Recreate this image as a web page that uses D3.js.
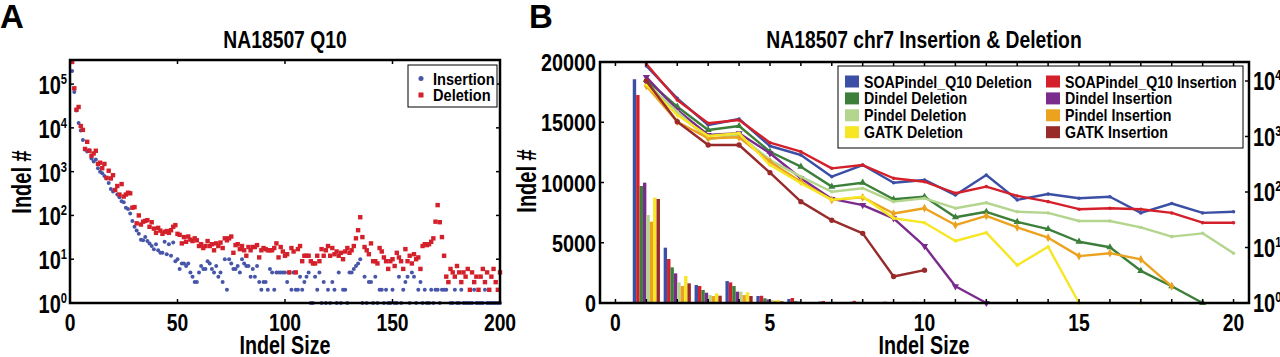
<!DOCTYPE html>
<html>
<head>
<meta charset="utf-8">
<script src="https://cdn.jsdelivr.net/npm/d3@7"></script>
<style>
  body { margin: 0; background: #fff; }
  svg text { font-family: "Liberation Sans", Arial, sans-serif; font-weight: bold; fill: #000; }
</style>
</head>
<body>
<div id="plot"></div>
<script>
// ---- panel A data : indel size 1..200 ----
let insertionA = [200000,66000,25000,13000,8700,5300,3200,2900,3100,2000,1700,1900,1200,1000,920,800,700,550,400,350,
  380,300,260,210,200,150,140,110,75,55,45,38,28,27,32,26,23,20,17,22,
  16,14,14,25,13,22,12,24,9,10,6,8,8,7,8,5,4,3,3,5,
  7,6,6,9,8,6,5,7,4,5,3,10,2,10,8,6,6,7,5,10,
  8,7,7,4,6,4,7,3,2,3,3,2,6,5,2,5,5,5,5,5,
  3,5,2,5,2,2,4,2,3,4,5,1,1,4,2,5,1,3,1,2,
  1,3,2,1,5,1,2,2,1,5,5,6,7,8,10,1,4,1,3,3,
  1,4,1,2,2,1,2,1,1,2,1,1,4,1,2,3,4,1,5,4,
  1,2,3,1,2,1,1,2,1,2,2,1,2,2,2,3,1,1,2,1,
  1,2,1,1,1,1,1,2,1,1,1,1,2,1,1,1,1,1,1,1];
let deletionA = [320000,80000,26000,30000,11000,9000,3300,4800,3000,2300,2600,3000,1500,1600,1200,1500,720,1050,700,830,
  380,470,300,520,270,300,330,320,150,155,66,100,62,72,75,78,55,70,50,40,
  52,45,38,42,44,40,46,55,60,38,36,23,32,25,33,28,26,30,27,20,
  22,18,20,26,20,22,16,23,20,24,18,30,27,30,33,14,21,22,17,20,
  16,12,19,16,19,19,21,11,16,18,17,16,16,16,18,23,11,19,15,12,
  13,5,18,15,5,17,20,9,12,12,12,9,8,8,12,9,17,12,16,20,
  12,18,13,15,12,14,10,15,18,14,16,20,30,46,91,32,19,16,13,23,
  9,9,8,18,15,11,9,6,9,10,7,14,11,9,6,17,9,12,8,13,
  10,11,6,20,22,21,22,25,30,72,172,70,32,12,4,3,6,5,4,7,
  5,3,5,4,6,2,5,3,4,2,4,6,3,5,2,4,6,3,2,5];
let legendA = ['Insertion', 'Deletion'];

// ---- panel B data : chr7, indel size 1..20 ----
let methods = ['SOAPindel_Q10 Deletion', 'SOAPindel_Q10 Insertion', 'Dindel Deletion', 'Dindel Insertion',
               'Pindel Deletion', 'Pindel Insertion', 'GATK Deletion', 'GATK Insertion'];
let barCounts = [
  [18570,4590,1490,1820,580,330,120,100,80,90],
  [17260,3650,1410,1710,600,415,170,180,110,90],
  [9710,2960,1080,1410,390,160,80,90,40,50],
  [9985,2460,855,940,300,120,40,40,20,10],
  [7300,1710,660,940,250,80,60,60,40,40],
  [6750,1410,580,660,190,80,40,40,20,30],
  [8740,2240,800,890,250,80,40,50,20,20],
  [8630,1630,605,580,140,40,20,10,5,5]
];
let lineCounts = [
  [18620,4876,1611,2066,674,464,189,306,147,165,88,202,72,92,77,82,42,62,42,44],
  [20230,4547,1729,1983,773,532,267,306,177,153,95,125,85,67,49,51,49,42,28,28],
  [10420,3443,1309,1545,532,286,125,147,74,82,35,44,29,21.5,12.7,10.1,3.8,2.0,1,null],
  [11800,3000,1064,1142,498,177,75,58,33.6,10.6,2.0,1,null,null,null,null,null,null,null,null],
  [9200,2800,891,1064,377,189,101,117,67,77,51,64,44,42,30,30,23,15.7,18,7.9],
  [8130,1849,928,968,352,153,72,80,41,51,25.4,37,23,15,7,7.9,6.1,2.0,null,null],
  [8470,2440,1021,1142,306,144,72,82,33.6,28,13.1,18.5,4.8,10.3,1,null,1,null,null,null],
  [10000,1849,703,703,223,67,31,18,3.0,3.9,null,null,null,null,null,null,null,null,null,null]
];
let leftTicksB = [0, 5000, 10000, 15000, 20000];
let bottomTicksB = [0, 5, 10, 15, 20];

// styles
let colors = ['#3b4fa4', '#d3202a', '#3c7f3b', '#7a2b8c', '#b4d58e', '#eba31f', '#f6e623', '#982a2a'];
let markers = ['dot', 'dot', 'up', 'down', 'dot', 'diamond', 'dot', 'circle'];

window.addEventListener('load', main);

function main(){
  let svg = d3.select('#plot').append('svg').attr('width', 1280).attr('height', 357);

  let txt = function(x, y, s, size, anchor, sx){
    return svg.append('text')
      .attr('transform', `translate(${x},${y}) scale(${sx},1)`)
      .attr('text-anchor', anchor)
      .attr('font-size', size)
      .text(s);
  };
  let logLabel = function(x, y, exp, anchor){
    let t = svg.append('text')
      .attr('transform', `translate(${x},${y}) scale(0.8,1)`)
      .attr('text-anchor', anchor)
      .attr('font-size', 25);
    t.append('tspan').text('10');
    t.append('tspan').attr('font-size', 14).attr('dy', -10).text(exp);
  };

  // ================= panel A =================
  let xA = d3.scaleLinear().domain([0, 200]).range([70, 500]);
  let yA = d3.scaleLog().domain([1, Math.pow(10, 5.55)]).range([303, 60]);

  txt(0, 28, 'A', 33, 'start', 1);
  txt(285, 48, 'NA18507 Q10', 23, 'middle', 0.84);

  let ptsA = svg.append('g');
  ptsA.selectAll('circle').data(insertionA).join('circle')
    .attr('cx', (d, i) => xA(i + 1)).attr('cy', d => yA(d)).attr('r', 2)
    .attr('fill', '#4756a8');
  ptsA.selectAll('rect').data(deletionA).join('rect')
    .attr('x', (d, i) => xA(i + 1) - 2.2).attr('y', d => yA(d) - 2.2)
    .attr('width', 4.4).attr('height', 4.4).attr('fill', '#d3202a');

  // ticks A
  let axA = svg.append('g').attr('stroke', '#000').attr('stroke-width', 1.5);
  [0, 50, 100, 150, 200].forEach(v => {
    axA.append('line').attr('x1', xA(v)).attr('x2', xA(v)).attr('y1', 303).attr('y2', 299);
    axA.append('line').attr('x1', xA(v)).attr('x2', xA(v)).attr('y1', 60).attr('y2', 64);
    txt(xA(v), 331, v, 23, 'middle', 0.84);
  });
  [0, 1, 2, 3, 4, 5].forEach(e => {
    let y = yA(Math.pow(10, e));
    axA.append('line').attr('x1', 70).attr('x2', 74).attr('y1', y).attr('y2', y);
    axA.append('line').attr('x1', 500).attr('x2', 496).attr('y1', y).attr('y2', y);
    logLabel(67, y + 10, e, 'end');
  });
  svg.append('rect').attr('x', 70).attr('y', 60).attr('width', 430).attr('height', 243)
    .attr('fill', 'none').attr('stroke', '#000').attr('stroke-width', 2.5);

  txt(285, 354, 'Indel Size', 26, 'middle', 0.76);
  svg.append('text').attr('transform', 'translate(31,182) rotate(-90) scale(0.74,1)')
    .attr('text-anchor', 'middle').attr('font-size', 27).text('Indel #');

  // legend A
  let lgA = svg.append('g');
  lgA.append('rect').attr('x', 408).attr('y', 65).attr('width', 89).attr('height', 42)
    .attr('fill', '#fff').attr('stroke', '#000').attr('stroke-width', 1);
  lgA.append('circle').attr('cx', 421).attr('cy', 78.5).attr('r', 2.5).attr('fill', '#4756a8');
  lgA.append('rect').attr('x', 418.5).attr('y', 92.5).attr('width', 5).attr('height', 5).attr('fill', '#d3202a');
  legendA.forEach((s, i) => txt(433, 84.5 + i * 16.5, s, 17, 'start', 0.86));

  // ================= panel B =================
  let xB = d3.scaleLinear().domain([-0.5, 20.5]).range([600, 1249]);
  let yL = d3.scaleLinear().domain([0, 20000]).range([303, 62]);
  let yR = d3.scaleLog().domain([1, Math.pow(10, 241 / 55.5)]).range([303, 62]);
  let unit = xB(1) - xB(0);
  let inner = d3.scaleBand().domain(d3.range(methods.length)).range([-0.44 * unit, 0.44 * unit]);

  txt(529, 28, 'B', 33, 'start', 1);
  txt(924, 48, 'NA18507 chr7 Insertion & Deletion', 23, 'middle', 0.84);

  // bars
  let barG = svg.append('g');
  barCounts.forEach((vals, s) => {
    barG.append('g').attr('fill', colors[s]).selectAll('rect').data(vals).join('rect')
      .attr('x', (d, i) => xB(i + 1) + inner(s))
      .attr('width', inner.bandwidth())
      .attr('y', d => yL(d))
      .attr('height', d => 303 - yL(d));
  });

  // lines
  let lineG = svg.append('g');
  lineCounts.forEach((vals, s) => {
    let pts = vals.map((v, i) => ({ x: i + 1, v: v }));
    let line = d3.line().defined(d => d.v != null)
      .x(d => xB(d.x)).y(d => yR(d.v));
    lineG.append('path').attr('d', line(pts))
      .attr('fill', 'none').attr('stroke', colors[s]).attr('stroke-width', 2.4)
      .attr('stroke-linejoin', 'round');
    let good = pts.filter(d => d.v != null);
    let mk = markers[s];
    let sym = mk == 'up' ? d3.symbolTriangle : mk == 'down' ? d3.symbolTriangle
            : mk == 'diamond' ? d3.symbolDiamond : d3.symbolCircle;
    let size = mk == 'dot' ? 10 : 22;
    lineG.append('g').selectAll('path').data(good).join('path')
      .attr('d', d3.symbol().type(sym).size(size))
      .attr('transform', d => `translate(${xB(d.x)},${yR(d.v)})` + (mk == 'down' ? ' rotate(180)' : ''))
      .attr('fill', colors[s]);
  });

  // axes B
  let axB = svg.append('g').attr('stroke', '#000').attr('stroke-width', 1.5);
  d3.range(0, 21).forEach(v => {
    axB.append('line').attr('x1', xB(v)).attr('x2', xB(v)).attr('y1', 303).attr('y2', 299);
    axB.append('line').attr('x1', xB(v)).attr('x2', xB(v)).attr('y1', 62).attr('y2', 66);
  });
  bottomTicksB.forEach(v => txt(xB(v), 331, v, 23, 'middle', 0.84));
  leftTicksB.forEach(v => {
    axB.append('line').attr('x1', 600).attr('x2', 604).attr('y1', yL(v)).attr('y2', yL(v));
    txt(596, yL(v) + 9, v, 23, 'end', 0.86);
  });
  [0, 1, 2, 3, 4].forEach(e => {
    let y = yR(Math.pow(10, e));
    axB.append('line').attr('x1', 1249).attr('x2', 1245).attr('y1', y).attr('y2', y);
    logLabel(1253, y + 9, e, 'start');
  });
  svg.append('rect').attr('x', 600).attr('y', 62).attr('width', 649).attr('height', 241)
    .attr('fill', 'none').attr('stroke', '#000').attr('stroke-width', 2.5);

  txt(924, 354, 'Indel Size', 26, 'middle', 0.76);
  svg.append('text').attr('transform', 'translate(536,181) rotate(-90) scale(0.74,1)')
    .attr('text-anchor', 'middle').attr('font-size', 27).text('Indel #');

  // legend B
  let lgB = svg.append('g');
  lgB.append('rect').attr('x', 838).attr('y', 66).attr('width', 405).attr('height', 82)
    .attr('fill', '#fff').attr('stroke', '#000').attr('stroke-width', 1);
  methods.forEach((m, i) => {
    let col = i % 2, row = Math.floor(i / 2);
    let x0 = col == 0 ? 845 : 1046;
    let yc = 81.5 + row * 16.9;
    lgB.append('rect').attr('x', x0).attr('y', yc - 6).attr('width', 14).attr('height', 12)
      .attr('fill', colors[i]);
    txt(x0 + 19, yc + 6, m, 16.5, 'start', 0.86);
  });
}
</script>
</body>
</html>
